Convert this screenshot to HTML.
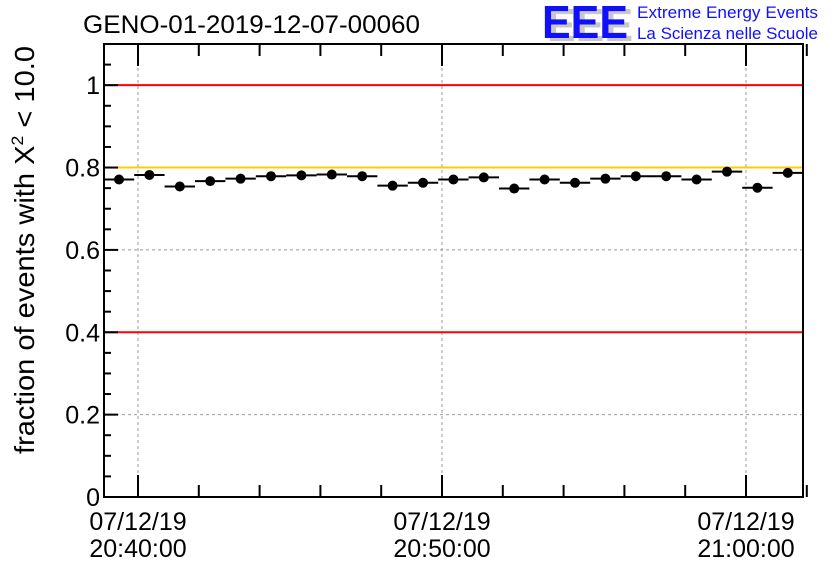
<!DOCTYPE html>
<html><head><meta charset="utf-8"><style>
body{margin:0;background:#fff;}
svg{display:block;font-family:"Liberation Sans",sans-serif;}
</style></head><body>
<svg id="chart" width="836" height="572" viewBox="0 0 836 572">
<rect width="836" height="572" fill="#fff"/>
<text x="83" y="33" font-size="25" textLength="337" lengthAdjust="spacingAndGlyphs">GENO-01-2019-12-07-00060</text>
<g>
<text x="547" y="41" font-size="46" font-weight="bold" fill="#c8c8c8" textLength="86" lengthAdjust="spacingAndGlyphs">EEE</text>
<text x="542" y="38" font-size="46" font-weight="bold" fill="#1010ff" textLength="86" lengthAdjust="spacingAndGlyphs">EEE</text>
<text x="637" y="18" font-size="17" fill="#1010ff" textLength="181" lengthAdjust="spacingAndGlyphs">Extreme Energy Events</text>
<text x="637" y="39" font-size="17" fill="#1010ff" textLength="181" lengthAdjust="spacingAndGlyphs">La Scienza nelle Scuole</text>
</g>
<g id="grid"></g>
<g id="lines"></g>
<g id="marks"></g>
<rect x="104" y="44" width="699" height="453" fill="none" stroke="#000" stroke-width="2"/>
<g id="axes"></g>
<text transform="translate(34,250) rotate(-90)" text-anchor="middle" font-size="28" textLength="408" lengthAdjust="spacingAndGlyphs">fraction of events with X<tspan dy="-11" font-size="17">2</tspan><tspan dy="11"> &lt; 10.0</tspan></text>
</svg>
<script>
const values=[0.771,0.782,0.754,0.767,0.773,0.779,0.781,0.783,0.779,0.756,0.763,0.771,0.776,0.749,0.771,0.763,0.773,0.779,0.779,0.771,0.790,0.751,0.787];
const startMinute=-1.125; // first bin start relative to 20:40
const yTicks=[0,0.2,0.4,0.6,0.8,1];
const yTickLabels=["0","0.2","0.4","0.6","0.8","1"];
const xMajor=[0,10,20];
const xLabels=[["07/12/19","20:40:00"],["07/12/19","20:50:00"],["07/12/19","21:00:00"]];
const refLines=[{v:1,c:"#ff0000",n:"upper-limit-line"},{v:0.8,c:"#ffcc00",n:"target-line"},{v:0.4,c:"#ff0000",n:"lower-limit-line"}];
const X0=104,X1=803,Y0=497,Y1=44;
const ymax=1.1;
function ys(v){return Y0-(v/ymax)*(Y0-Y1);}
function xs(m){return 138+m*30.4;}
const NS="http://www.w3.org/2000/svg";
function mk(p,t,a){const e=document.createElementNS(NS,t);for(const k in a)e.setAttribute(k,a[k]);document.getElementById(p).appendChild(e);return e;}
yTicks.forEach((v,i)=>{
 if(v>0&&v<1){const g=mk('grid','line',{x1:X0,x2:X1,y1:ys(v),y2:ys(v),stroke:'#999','stroke-dasharray':'3,3','stroke-width':1});
 
 }
 const t=mk('axes','line',{x1:X0,x2:X0+14,y1:ys(v),y2:ys(v),stroke:'#000','stroke-width':2});
 
 
 const l=mk('axes','text',{x:X0-4,y:ys(v)+9,'text-anchor':'end','font-size':25});
 
 
 l.textContent=yTickLabels[i];
});
for(let v=0.05;v<1.1;v+=0.05){if(Math.abs(v*5-Math.round(v*5))<1e-6)continue;
 const t=mk('axes','line',{x1:X0,x2:X0+7,y1:ys(v),y2:ys(v),stroke:'#000','stroke-width':2});
 
 }
for(let m=0;m<=22;m+=2){const big=xMajor.includes(m);
 const t1=mk('axes','line',{x1:xs(m),x2:xs(m),y1:Y0,y2:Y0-(big?22:12),stroke:'#000','stroke-width':2});
 
 
 const t2=mk('axes','line',{x1:xs(m),x2:xs(m),y1:Y1,y2:Y1+(big?22:12),stroke:'#000','stroke-width':2});
 
 }
xMajor.forEach((m,i)=>{
 const g=mk('grid','line',{x1:xs(m),x2:xs(m),y1:Y1,y2:Y0,stroke:'#999','stroke-dasharray':'3,3','stroke-width':1});
 
 
 xLabels[i].forEach((s,j)=>{const l=mk('axes','text',{x:xs(m),y:530+j*27,'text-anchor':'middle','font-size':25});
 
 
 l.textContent=s;});
});
refLines.forEach(r=>{const l=mk('lines','line',{x1:X0,x2:X1,y1:ys(r.v),y2:ys(r.v),stroke:r.c,'stroke-width':2});
 
 });
values.forEach((v,i)=>{
 const a=xs(startMinute+i),b=xs(startMinute+i+1);
 const h=mk('marks','line',{x1:a,x2:b,y1:ys(v),y2:ys(v),stroke:'#000','stroke-width':2});
 
 
 const c=mk('marks','circle',{cx:(a+b)/2,cy:ys(v),r:5,fill:'#000'});
 
 
});
</script>
</body></html>
